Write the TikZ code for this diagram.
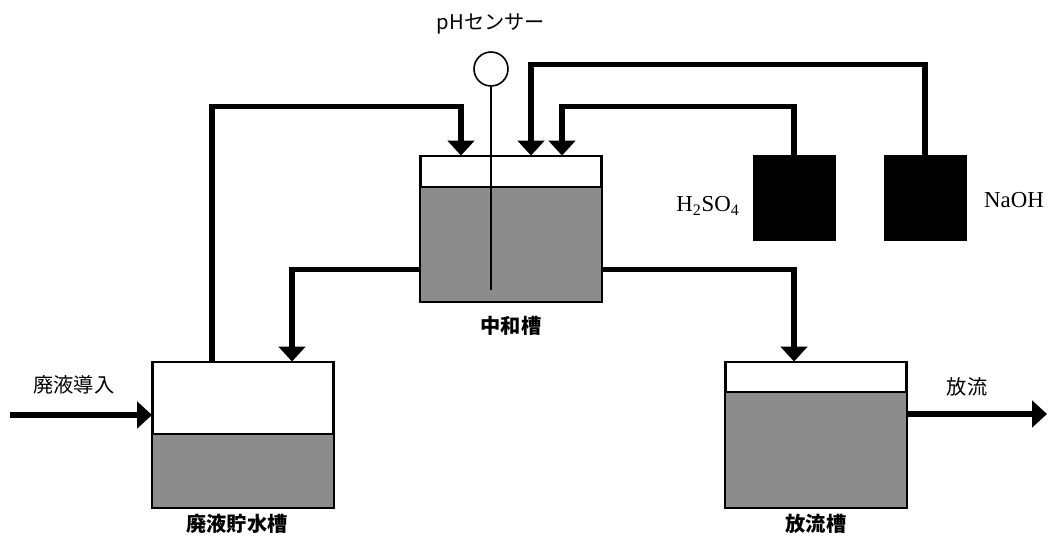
\documentclass[tikz,border=0pt]{standalone}
\usepackage{fontspec}
\newfontfamily\jp{Noto Sans CJK JP}
\newfontfamily\chem{Liberation Serif}
\usetikzlibrary{arrows.meta, calc}

\begin{document}
\begin{tikzpicture}[
  x=0.02cm, y=-0.02cm,
  tank/.style={draw, line width=1.1pt, minimum width=3.6cm,
               minimum height=2.9cm, inner sep=0pt},
  bottle/.style={fill=black, draw=black, minimum width=1.64cm,
                 minimum height=1.7cm, inner sep=0pt},
  water/.style={fill=black!45},
  pipe/.style={line width=3pt},
  feed/.style={pipe, -{Triangle[width=15pt, length=8.5pt]}},
  label/.style={font=\jp\fontsize{11.5}{13}\selectfont},
  tanklabel/.style={font=\jp\bfseries\fontsize{11.5}{13}\selectfont},
  chemlabel/.style={font=\chem\fontsize{13}{15}\selectfont}
]
  \useasboundingbox (0,0) rectangle (1048,540);

  % tanks
  \node[tank] (mix)   at (511,229) {};
  \node[tank] (store) at (243,435) {};
  \node[tank] (out)   at (816,435) {};
  \foreach \t/\h in {mix/31, store/72, out/30} {
    \fill[water] (\t.south west) rectangle ($(\t.north east)+(0,\h)$);
    \draw[line width=1.1pt] ($(\t.north west)+(0,\h)$) -- ($(\t.north east)+(0,\h)$);
    \draw[line width=1.1pt] (\t.south west) rectangle (\t.north east);
  }

  % reagent bottles
  \node[bottle] (acid) at (794,198) {};
  \node[bottle] (base) at (925,198) {};

  % pH sensor
  \node[draw, circle, line width=0.9pt, minimum size=0.68cm, inner sep=0pt] (sensor) at (491,69) {};
  \coordinate (probe) at (491,290);
  \draw[line width=0.7pt] (sensor.south) -- (probe);

  % pipes
  \coordinate (src)  at (10,415);
  \coordinate (sink) at (1047,414);
  \draw[feed] (src) -- ($(store.west)+(0,-20)$);
  \draw[feed] ($(store.north)+(-31,0)$) |- ($(mix.north)+(-50,-49)$) -- ($(mix.north)+(-50,0)$);
  \draw[feed] (base.north) |- ($(mix.north)+(20,-91)$) -- ($(mix.north)+(20,0)$);
  \draw[feed] (acid.north) |- ($(mix.north)+(51,-49)$) -- ($(mix.north)+(51,0)$);
  \draw[feed] ($(mix.south west)+(0,-33)$) -| ($(store.north)+(49,0)$);
  \draw[feed] ($(mix.south east)+(0,-33)$) -| ($(out.north)+(-22,0)$);
  \draw[feed] ($(out.east)+(0,-21)$) -- (sink);

  % labels
  \node[label] (sensorlbl) at (491,24) {pHセンサー};
  \node[label] (inlbl)  at (74,385)  {廃液導入};
  \node[label] (outlbl) at (967,387) {放流};
  \node[chemlabel] (acidlbl) at (708,206) {H\textsubscript{2}SO\textsubscript{4}};
  \node[chemlabel] (baselbl) at (1014,200) {NaOH};
  \node[tanklabel] (mixlbl)   at (511,326) {中和槽};
  \node[tanklabel] (storelbl) at (237,524) {廃液貯水槽};
  \node[tanklabel] (outlbl2)  at (816,524) {放流槽};
\end{tikzpicture}
\end{document}
